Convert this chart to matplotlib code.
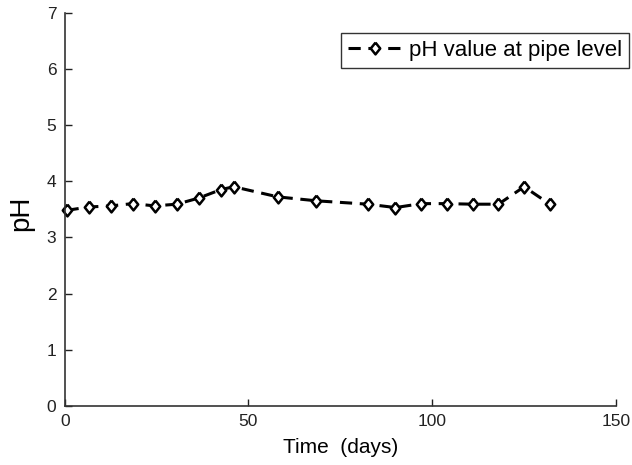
import matplotlib
matplotlib.use('Agg')
import matplotlib.pyplot as plt

plt.rcParams['font.family'] = ['Liberation Sans', 'DejaVu Sans']

days = [0.5, 6.5, 12.5, 18.5, 24.5, 30.5, 36.5, 42.5, 46, 58, 68.5,
        82.5, 90, 97, 104, 111, 118, 125, 132]
ph = [3.48, 3.54, 3.56, 3.6, 3.56, 3.59, 3.7, 3.85, 3.9, 3.72, 3.65,
      3.59, 3.53, 3.6, 3.6, 3.59, 3.59, 3.9, 3.59]

xticks = [0, 50, 100, 150]
yticks = [0, 1, 2, 3, 4, 5, 6, 7]

# diamond a little taller than wide, like the original marker
diamond = [(0, 1), (0.8, 0), (0, -1), (-0.8, 0), (0, 1)]


def main():
    fig = plt.figure(figsize=(6.32, 4.65), dpi=100)
    ax = fig.add_axes([0.1024, 0.127, 0.8723, 0.846])

    ax.plot(days, ph, color='black', linestyle='--', dashes=(4, 2.5),
            linewidth=2.2, marker=diamond, markersize=8.5,
            markerfacecolor='white', markeredgecolor='black',
            markeredgewidth=1.8, clip_on=False,
            label='pH value at pipe level')

    ax.set_xlim(0, 150)
    ax.set_ylim(0, 7)
    ax.set_xticks(xticks)
    ax.set_yticks(yticks)
    ax.tick_params(direction='in', length=5, width=1, labelsize=12.5,
                   colors='#222222')
    ax.tick_params(axis='x', pad=6)
    ax.tick_params(axis='y', pad=6)

    for side in ['top', 'right']:
        ax.spines[side].set_visible(False)
    for side in ['left', 'bottom']:
        ax.spines[side].set_color('#333333')
        ax.spines[side].set_linewidth(1.2)

    ax.set_xlabel('Time  (days)', fontsize=15, labelpad=6)
    ax.set_ylabel('pH', fontsize=20)
    ax.yaxis.set_label_coords(-0.056, 0.49)

    leg = fig.legend(loc='upper right', bbox_to_anchor=(0.9953, 0.9284),
                     fontsize=16, frameon=True, fancybox=False,
                     handlelength=2.45, handletextpad=0.3,
                     borderpad=0.3, borderaxespad=0)
    leg.get_frame().set_edgecolor('black')
    leg.get_frame().set_linewidth(1)

    fig.savefig('out.png', dpi=100)


if __name__ == "__main__":
    main()
